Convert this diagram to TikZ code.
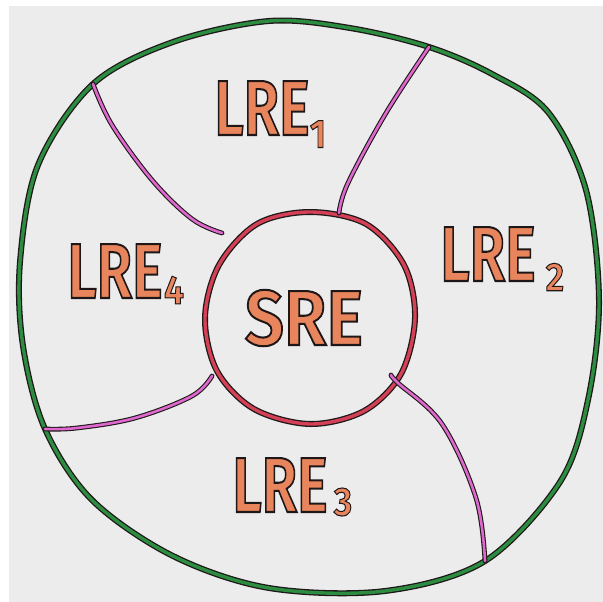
\documentclass[tikz,border=0pt]{standalone}
\usepackage{fontspec}
\setmainfont{Fira Sans}
\newfontfamily\outfont[FakeBold=2.6, UprightFont=* SemiBold]{Fira Sans}
\definecolor{bggray}{RGB}{236,236,236}
\definecolor{ringgreen}{RGB}{44,140,64}
\definecolor{ringred}{RGB}{212,64,86}
\definecolor{splitmag}{RGB}{222,104,206}
\definecolor{lblorange}{RGB}{232,132,92}
\definecolor{inkblack}{RGB}{30,24,24}
\newcommand{\inkout}[1]{\special{pdf:bcolor [0.91 0.52 0.36] [0.12 0.09 0.09]}#1\special{pdf:ecolor}}
\tikzset{
  outerline/.style={line width=6pt, draw=inkblack, line cap=round, line join=round},
  greenline/.style={line width=3.4pt, draw=ringgreen, line cap=round, line join=round},
  redline/.style={line width=3.4pt, draw=ringred, line cap=round, line join=round},
  magline/.style={line width=2.6pt, draw=splitmag, line cap=round, line join=round},
  magouter/.style={line width=4.8pt, draw=inkblack, line cap=round, line join=round},
  lbl/.style={font=\outfont\fontsize{78}{78}\selectfont, text=lblorange, inner sep=0pt, xscale=0.74},
  sublbl/.style={font=\outfont\fontsize{40}{40}\selectfont, text=lblorange, inner sep=0pt, xscale=0.9},
}
\begin{document}
\begin{tikzpicture}[x=1pt,y=-1pt]
\useasboundingbox (0,0) rectangle (603,602);
\fill[bggray] (9,6) rectangle (603,602);
% coordinates
\coordinate (jTL) at (93,84);
\coordinate (jTR) at (429,47);
\coordinate (jL) at (45,429);
\coordinate (jB) at (485,561);
% outer green loop
\def\outerpath{plot[smooth cycle, tension=0.55] coordinates {
  (269,21) (350,28) (429,47) (492,74) (548,112) (586,190) (599,300)
  (588,400) (560,482) (485,561) (385,591) (269,588) (173,556) (92,500)
  (45,429) (23,346) (20,262) (38,165) (93,84) (173,42)}}
\draw[outerline] \outerpath;
\draw[greenline] \outerpath;
% inner red ring
\def\innerpath{plot[smooth cycle, tension=0.55] coordinates {
  (415,318) (404,265) (366,224) (310,212) (257,224) (219,265)
  (205,318) (217,371) (254,409) (310,424) (364,411) (401,374)}}
\draw[outerline] \innerpath;
\draw[redline] \innerpath;
% magenta separators
\def\sepA{plot[smooth, tension=0.6] coordinates {(jTL) (112,125) (152,180) (192,219) (222,233)}}
\def\sepB{plot[smooth, tension=0.6] coordinates {(jTR) (386,113) (348,183) (339,213)}}
\def\sepC{plot[smooth, tension=0.6] coordinates {(391,375) (398,383) (442,424) (476,498) (jB)}}
\def\sepD{plot[smooth, tension=0.6] coordinates {(212,376) (192,396) (135,418) (77,428) (jL)}}
\foreach \p in {\sepA,\sepB,\sepC,\sepD}{
  \draw[magouter] \p;
  \draw[magline] \p;
}
% labels
\node[lbl] (l1) at (262,108) {\inkout{LRE}};
\node[sublbl] (s1) at (318,134) {\inkout{1}};
\node[lbl] (l2) at (488,254) {\inkout{LRE}};
\node[sublbl] (s2) at (555,277) {\inkout{2}};
\node[lbl] (l3) at (280,485) {\inkout{LRE}};
\node[sublbl] (s3) at (343,502) {\inkout{3}};
\node[lbl] (l4) at (115,271) {\inkout{LRE}};
\node[sublbl] (s4) at (174,290) {\inkout{4}};
\node[lbl, xscale=1.2] (sre) at (304,318) {\inkout{SRE}};
\end{tikzpicture}
\end{document}
